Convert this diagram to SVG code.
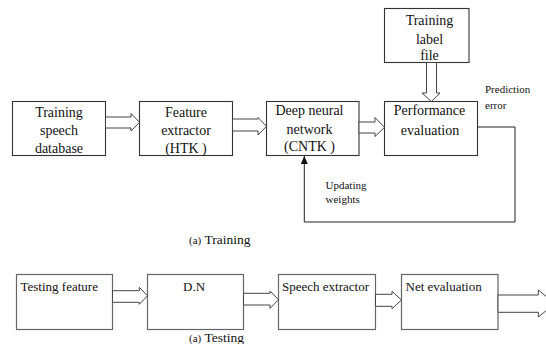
<svg xmlns="http://www.w3.org/2000/svg" width="546" height="344" viewBox="0 0 546 344" font-family="'Liberation Serif', 'Times New Roman', Times, serif">
<style>
.box{fill:#fff;stroke:#333;stroke-width:1.1}
.box2{fill:#fff;stroke:#666;stroke-width:1.2}
.arr{fill:#fff;stroke:#444;stroke-width:1}
text{font-family:'Liberation Serif','Times New Roman',Times,serif;fill:#111}
.t{font-size:14px;text-anchor:middle}
.tl{font-size:13px}
.s{font-size:11px}
.line{fill:none;stroke:#222;stroke-width:1}
</style>
<defs>
<marker id="ah" viewBox="0 0 8 10" refX="8" refY="5" markerWidth="8" markerHeight="10" markerUnits="userSpaceOnUse" orient="auto">
<path d="M0,1.5 L8,5 L0,8.5 Z" fill="#111"/>
</marker>
</defs>
<g id="n1"><rect class="box" x="12.5" y="101.5" width="93" height="54"/>
<text class="t" x="59" y="117">Training</text><text class="t" x="59" y="135">speech</text><text class="t" x="59" y="152.5">database</text></g>
<g id="n2"><rect class="box" x="139.5" y="101.5" width="93" height="54"/>
<text class="t" x="186" y="117">Feature</text><text class="t" x="186" y="135">extractor</text><text class="t" x="186" y="152.5">(HTK )</text></g>
<g id="n3"><rect class="box" x="266.5" y="101.5" width="92.5" height="54"/>
<text class="t" x="309.5" y="115">Deep neural</text><text class="t" x="309.5" y="134">network</text><text class="t" x="309.5" y="150.5">(CNTK )</text></g>
<g id="n4"><rect class="box" x="384.5" y="101.5" width="93" height="54"/>
<text class="t" x="429.5" y="115">Performance</text><text class="t" x="430" y="135">evaluation</text></g>
<g id="n5"><rect class="box" x="384.5" y="8.5" width="84.5" height="54"/>
<text class="t" x="429.5" y="25">Training</text><text class="t" x="429.5" y="43.5">label</text><text class="t" x="429.5" y="60">file</text></g>
<g id="n6"><rect class="box2" x="16.5" y="274.5" width="96" height="55"/>
<text class="tl" x="20.5" y="291">Testing feature</text></g>
<g id="n7"><rect class="box2" x="147.5" y="274.5" width="96" height="55"/>
<text class="tl" x="183" y="291">D.N</text></g>
<g id="n8"><rect class="box2" x="278.5" y="274.5" width="97" height="55"/>
<text class="tl" x="282" y="291">Speech extractor</text></g>
<g id="n9"><rect class="box2" x="401.5" y="274.5" width="96.5" height="55"/>
<text class="tl" x="405.5" y="291">Net evaluation</text></g>
<g id="connectors">
<polygon class="arr" points="105.5,117 131,117 131,113.5 139.5,122.3 131,131 131,128 105.5,128"/>
<polygon class="arr" points="232.5,119 258,119 258,117.5 266.5,126.3 258,135 258,131 232.5,131"/>
<polygon class="arr" points="359,122 375,122 375,117.5 384.5,127.3 375,136.5 375,133 359,133"/>
<polygon class="arr" points="426.5,62.5 426.5,93 422,93 431.3,101.5 440,93 436.5,93 436.5,62.5"/>
<polygon class="arr" points="112.5,290.7 139.3,290.7 139.3,287.3 147.5,295.8 139.3,304.3 139.3,302.3 112.5,302.3"/>
<polygon class="arr" points="243.5,293.3 270,293.3 270,291 278.5,299.7 270,308.3 270,305 243.5,305"/>
<polygon class="arr" points="375.5,294.3 392,294.3 392,291.3 401.5,300 392,308.7 392,306.3 375.5,306.3"/>
<polygon class="arr" points="498,295 538.3,295 538.3,290 555,303.6 538.3,317 538.3,312.3 498,312.3"/>
<polyline class="line" points="477.5,127 515,127 515,222 304.3,222 304.3,156" marker-end="url(#ah)"/>
<text class="s" x="485" y="93">Prediction</text>
<text class="s" x="485" y="109">error</text>
<text class="s" x="325.5" y="188.5">Updating</text>
<text class="s" x="325.5" y="203">weights</text>
</g>
<text class="tl" x="189" y="244"><tspan font-size="11">(a)</tspan> <tspan font-size="13.5">Training</tspan></text>
<text class="tl" x="189" y="341.5"><tspan font-size="11">(a)</tspan> <tspan font-size="13.5">Testing</tspan></text>
</svg>
